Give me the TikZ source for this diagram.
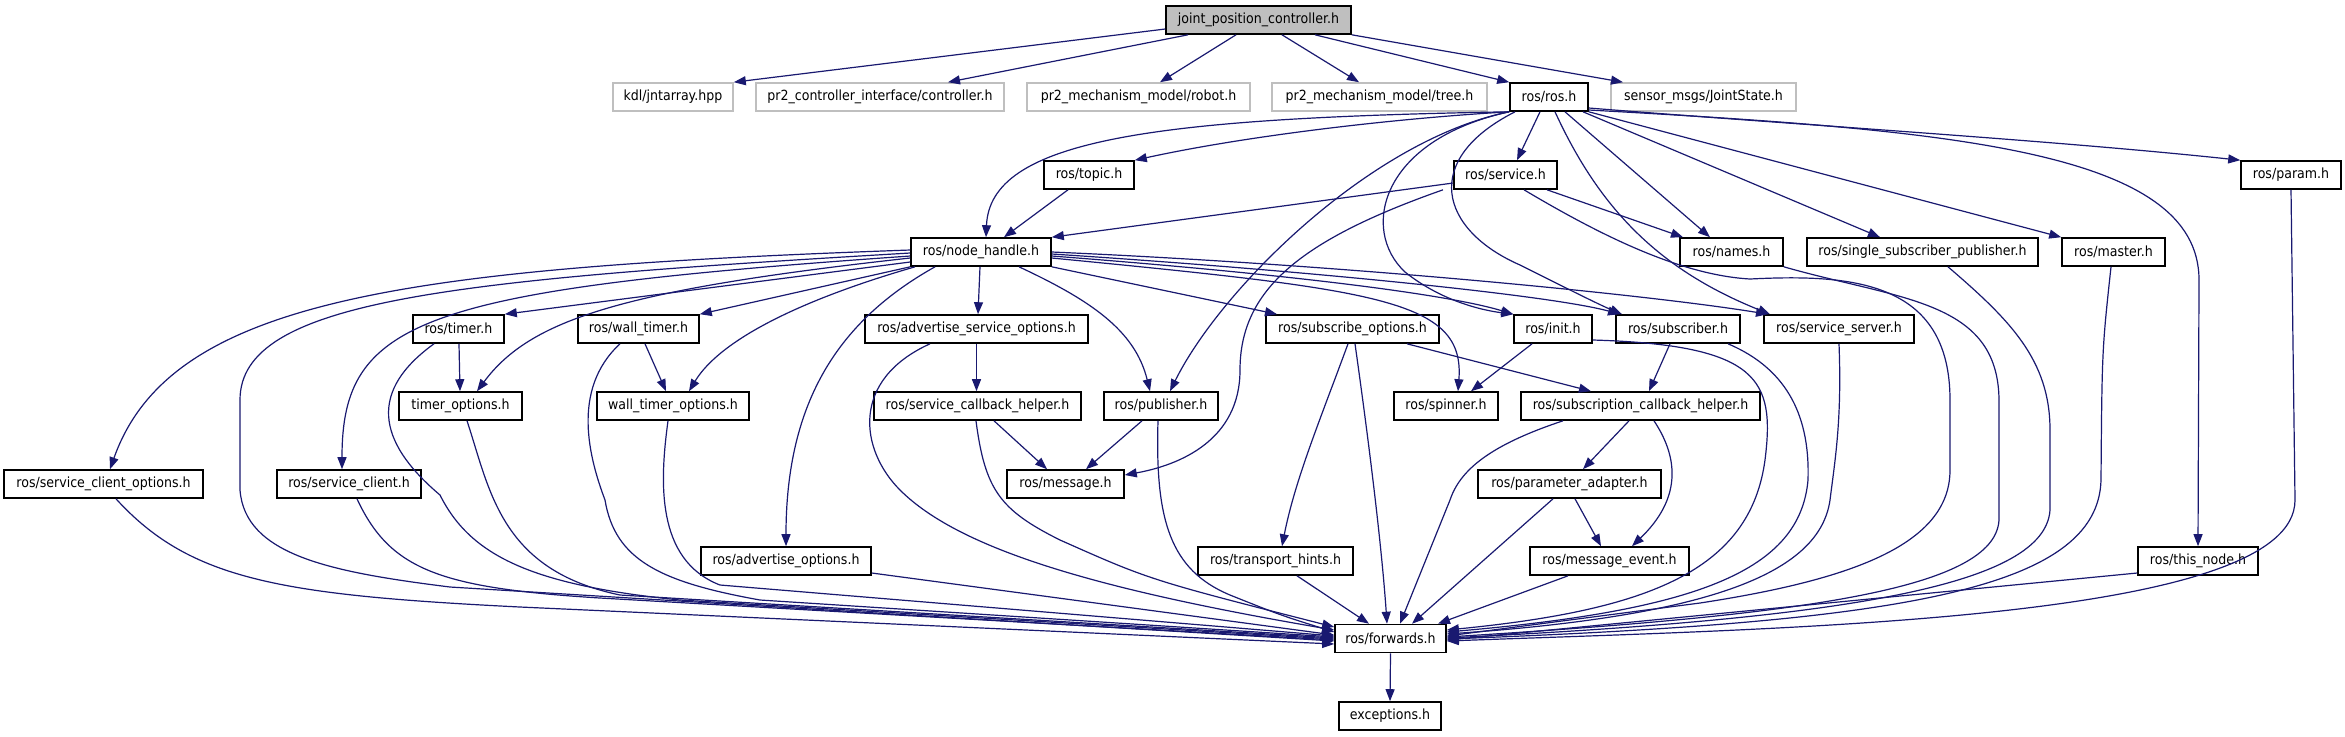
\documentclass[tikz,border=0pt]{standalone}
\usepackage{fontspec}
\setmainfont{DejaVu Sans}[FakeStretch=0.9]
\usetikzlibrary{arrows.meta}
\definecolor{edgec}{HTML}{191970}
\definecolor{greyb}{HTML}{BFBFBF}
\definecolor{rootf}{HTML}{BFBFBF}
\begin{document}
\begin{tikzpicture}[x=0.5pt,y=-0.5pt,
  nb/.style={draw=black, line width=0.8pt, minimum height=14pt, inner sep=0pt, font=\fontsize{7pt}{8pt}\selectfont, text=black},
  ng/.style={nb, draw=greyb},
  root/.style={nb, fill=rootf},
  w/.style={minimum width=#1*0.5pt},
  e/.style={draw=edgec, line width=0.6pt, -{Triangle[length=6pt,width=4.5pt]}}]
\fill[white] (0,0) rectangle (2345,736);
\path[use as bounding box] (0,0) rectangle (2345,736);
% nodes
\node[root,w=185] (jpc) at (1258.5,20) {joint\_position\_controller.h};
\node[ng,w=120] (kdl) at (673,97) {kdl/jntarray.hpp};
\node[ng,w=248] (pci) at (880,97) {pr2\_controller\_interface/controller.h};
\node[ng,w=223] (robot) at (1138.5,97) {pr2\_mechanism\_model/robot.h};
\node[ng,w=215] (tree) at (1379.5,97) {pr2\_mechanism\_model/tree.h};
\node[nb,w=78] (rosh) at (1549,97) {ros/ros.h};
\node[ng,w=185] (js) at (1703.5,97) {sensor\_msgs/JointState.h};
\node[nb,w=90] (topic) at (1089,175) {ros/topic.h};
\node[nb,w=103] (service) at (1505.5,175) {ros/service.h};
\node[nb,w=100] (param) at (2291,175) {ros/param.h};
\node[nb,w=140] (nh) at (981,252) {ros/node\_handle.h};
\node[nb,w=103] (names) at (1731.5,252) {ros/names.h};
\node[nb,w=231] (ssp) at (1922.5,252) {ros/single\_subscriber\_publisher.h};
\node[nb,w=103] (master) at (2113.5,252) {ros/master.h};
\node[nb,w=91] (timer) at (458.5,329) {ros/timer.h};
\node[nb,w=121] (wtimer) at (638.5,329) {ros/wall\_timer.h};
\node[nb,w=223] (aso) at (976.5,329) {ros/advertise\_service\_options.h};
\node[nb,w=173] (subo) at (1352.5,329) {ros/subscribe\_options.h};
\node[nb,w=78] (init) at (1553,329) {ros/init.h};
\node[nb,w=124] (sub) at (1678,329) {ros/subscriber.h};
\node[nb,w=150] (ss) at (1839,329) {ros/service\_server.h};
\node[nb,w=123] (topt) at (460.5,406) {timer\_options.h};
\node[nb,w=152] (wtopt) at (673,406) {wall\_timer\_options.h};
\node[nb,w=207] (sch) at (977.5,406) {ros/service\_callback\_helper.h};
\node[nb,w=114] (pub) at (1161,406) {ros/publisher.h};
\node[nb,w=104] (spin) at (1446,406) {ros/spinner.h};
\node[nb,w=239] (scbh) at (1640.5,406) {ros/subscription\_callback\_helper.h};
\node[nb,w=199] (sco) at (103.5,484) {ros/service\_client\_options.h};
\node[nb,w=144] (sc) at (349,484) {ros/service\_client.h};
\node[nb,w=117] (msg) at (1065.5,484) {ros/message.h};
\node[nb,w=183] (pa) at (1569.5,484) {ros/parameter\_adapter.h};
\node[nb,w=170] (advo) at (786,561) {ros/advertise\_options.h};
\node[nb,w=155] (th) at (1275.5,561) {ros/transport\_hints.h};
\node[nb,w=159] (me) at (1609.5,561) {ros/message\_event.h};
\node[nb,w=120] (tn) at (2198,561) {ros/this\_node.h};
\node[nb,w=111] (fw) at (1390.5,638.5) {ros/forwards.h};
\node[nb,w=102] (exc) at (1390,716) {exceptions.h};
% edges from root
\draw[e] (jpc.west |- 0,29) -- (kdl.north east);
\draw[e] (jpc.south -| 1188,0) -- (pci.north -| 948,0);
\draw[e] (jpc.south -| 1236,0) -- (robot.north -| 1160,0);
\draw[e] (jpc.south -| 1282,0) -- (tree.north -| 1359,0);
\draw[e] (jpc.south -| 1315,0) -- (rosh.north west);
\draw[e] (jpc.south east) -- (js.north -| 1623,0);
% edges from ros.h
\draw[e] (rosh.south west) .. controls (1150,118) and (990,140) .. (nh.north -| 986,0);
\draw[e] (rosh.south west) .. controls (1400,118) and (1250,135) .. (topic.north east);
\draw[e] (rosh.south west) .. controls (1370,140) and (1220,290) .. (pub.north -| 1170,0);
\draw[e] (rosh.south west) .. controls (1380,140) and (1360,230) .. (1405,272) .. controls (1440,300) and (1480,310) .. (init.north west);
\draw[e] (rosh.south -| 1515,0) .. controls (1420,160) and (1440,230) .. (1520,265) .. controls (1570,290) and (1600,305) .. (sub.north -| 1622,0);
\draw[e] (rosh.south -| 1540,0) -- (service.north -| 1517,0);
\draw[e] (rosh.south -| 1555,0) .. controls (1600,210) and (1660,270) .. (ss.north -| 1770,0);
\draw[e] (rosh.south -| 1565,0) -- (names.north -| 1710,0);
\draw[e] (rosh.south -| 1583,0) -- (ssp.north -| 1880,0);
\draw[e] (rosh.south east) -- (master.north west);
\draw[e] (rosh.east |- 0,108) .. controls (1800,125) and (2050,140) .. (param.north west);
\draw[e] (rosh.east |- 0,110) .. controls (1950,130) and (2199,150) .. (2199,280) -- (tn.north);
% edges from service.h
\draw[e] (service.west |- 0,183) -- (nh.north east);
\draw[e] (service.south -| 1547,0) -- (names.north -| 1683,0);
\draw[e] (service.south -| 1443,0) .. controls (1300,240) and (1240,290) .. (1240,370) .. controls (1240,440) and (1180,465) .. (msg.east |- 0,475);
\draw[e] (service.south -| 1524,0) .. controls (1600,235) and (1680,275) .. (1750,279) .. controls (1850,274) and (1950,280) .. (1950,400) -- (1950,470) .. controls (1950,545) and (1850,580) .. (1700,603) -- (fw.east |- 0,636);
% topic
\draw[e] (topic.south -| 1068,0) -- (nh.north -| 1004,0);
% edges from node_handle.h
\draw[e] (nh.west |- 0,250) .. controls (400,268) and (170,300) .. (sco.north -| 110,0);
\draw[e] (nh.west |- 0,256) .. controls (420,290) and (342,320) .. (sc.north -| 342,0);
\draw[e] (nh.west |- 0,262) -- (timer.north east);
\draw[e] (nh.west |- 0,258) .. controls (620,290) and (530,320) .. (topt.north -| 477,0);
\draw[e] (nh.south west) -- (wtimer.north east);
\draw[e] (nh.south -| 915,0) .. controls (800,300) and (720,340) .. (wtopt.north -| 689,0);
\draw[e] (nh.south -| 935,0) .. controls (840,320) and (786,400) .. (advo.north);
\draw[e] (nh.south -| 980,0) -- (aso.north -| 978,0);
\draw[e] (nh.south -| 1019,0) .. controls (1090,300) and (1135,330) .. (pub.north -| 1150,0);
\draw[e] (nh.south east) -- (subo.north -| 1277,0);
\draw[e] (nh.east |- 0,256) .. controls (1300,275) and (1450,295) .. (init.north west);
\draw[e] (nh.east |- 0,258) .. controls (1380,290) and (1465,300) .. (spin.north -| 1458,0);
\draw[e] (nh.east |- 0,254) .. controls (1300,270) and (1550,295) .. (sub.north -| 1620,0);
\draw[e] (nh.east |- 0,252) .. controls (1350,265) and (1650,295) .. (ss.north -| 1768,0);
\draw[e] (nh.west |- 0,253) .. controls (450,280) and (240,300) .. (240,400) -- (240,490) .. controls (245,555) and (330,572) .. (450,587) -- (fw.west |- 0,641);
% second level
\draw[e] (timer.south -| 459,0) -- (topt.north -| 460,0);
\draw[e] (wtimer.south -| 645,0) -- (wtopt.north -| 666,0);
\draw[e] (aso.south) -- (aso.south |- sch.north);
\draw[e] (sch.south -| 994,0) -- (msg.north -| 1047,0);
\draw[e] (pub.south -| 1142,0) -- (msg.north -| 1086,0);
\draw[e] (init.south -| 1532,0) -- (spin.north -| 1471,0);
\draw[e] (sub.south -| 1670,0) -- (scbh.north -| 1649,0);
\draw[e] (subo.south -| 1407,0) -- (scbh.north -| 1591,0);
\draw[e] (subo.south -| 1348,0) .. controls (1320,420) and (1295,480) .. (th.north -| 1282,0);
\draw[e] (scbh.south -| 1629,0) -- (pa.north -| 1583,0);
\draw[e] (scbh.south -| 1654,0) .. controls (1680,460) and (1680,500) .. (me.north -| 1632,0);
\draw[e] (pa.south -| 1575,0) -- (me.north -| 1601,0);
% into forwards from the left
\draw[e] (sco.south -| 116,0) .. controls (190,580) and (280,595) .. (520,607) -- (fw.west |- 0,644);
\draw[e] (sc.south -| 357,0) .. controls (390,570) and (440,588) .. (600,598) -- (fw.west |- 0,640);
\draw[e] (timer.south -| 434,0) .. controls (370,390) and (375,440) .. (440,495) .. controls (470,555) and (530,585) .. (680,600) -- (fw.west |- 0,639);
\draw[e] (topt.south -| 467,0) .. controls (490,490) and (500,570) .. (620,595) -- (fw.west |- 0,638);
\draw[e] (wtimer.south -| 620,0) .. controls (570,390) and (590,460) .. (605,500) .. controls (615,560) and (660,582) .. (760,600) -- (fw.west |- 0,637);
\draw[e] (wtopt.south -| 668,0) .. controls (660,480) and (655,560) .. (720,585) -- (fw.west |- 0,636);
\draw[e] (advo.east |- 0,573) -- (fw.west |- 0,635);
\draw[e] (aso.south -| 930,0) .. controls (850,380) and (860,450) .. (900,490) .. controls (960,550) and (1100,590) .. (fw.west |- 0,630);
\draw[e] (sch.south -| 976,0) .. controls (985,490) and (1000,510) .. (1060,540) .. controls (1150,580) .. (fw.west |- 0,627);
\draw[e] (pub.south -| 1158,0) .. controls (1155,520) and (1170,570) .. (1230,595) .. controls (1280,615) .. (fw.west |- 0,632);
% into forwards from above
\draw[e] (th.south -| 1297,0) -- (fw.north -| 1369,0);
\draw[e] (subo.south -| 1355,0) .. controls (1370,450) and (1382,550) .. (fw.north -| 1387,0);
\draw[e] (scbh.south -| 1563,0) .. controls (1490,445) and (1460,470) .. (1450,500) -- (fw.north -| 1400,0);
\draw[e] (pa.south -| 1553,0) -- (fw.north -| 1412,0);
\draw[e] (me.south -| 1568,0) -- (fw.north -| 1438,0);
% into forwards from the right
\draw[e] (init.east |- 0,340) .. controls (1760,345) and (1775,380) .. (1765,460) .. controls (1750,570) and (1650,610) .. (fw.east |- 0,630);
\draw[e] (sub.south -| 1728,0) .. controls (1790,370) and (1810,420) .. (1808,480) .. controls (1800,570) and (1700,610) .. (fw.east |- 0,632);
\draw[e] (ss.south -| 1839,0) .. controls (1842,420) and (1835,460) .. (1830,500) .. controls (1820,570) and (1720,615) .. (fw.east |- 0,634);
\draw[e] (names.south east) .. controls (1900,300) and (1998,300) .. (1999,400) -- (1999,520) .. controls (1995,590) and (1800,615) .. (fw.east |- 0,637);
\draw[e] (ssp.south -| 1948,0) .. controls (2010,320) and (2050,360) .. (2050,430) -- (2050,510) .. controls (2045,585) and (1850,618) .. (fw.east |- 0,638);
\draw[e] (master.south -| 2111,0) .. controls (2102,350) .. (2101,480) .. controls (2098,590) and (1900,622) .. (fw.east |- 0,639);
\draw[e] (tn.west |- 0,573) -- (fw.east |- 0,640);
\draw[e] (param.south) -- (2295,500) .. controls (2295,620) and (1800,628) .. (fw.east |- 0,641);
% forwards -> exceptions
\draw[e] (fw.south) -- (exc.north);
\end{tikzpicture}
\end{document}
